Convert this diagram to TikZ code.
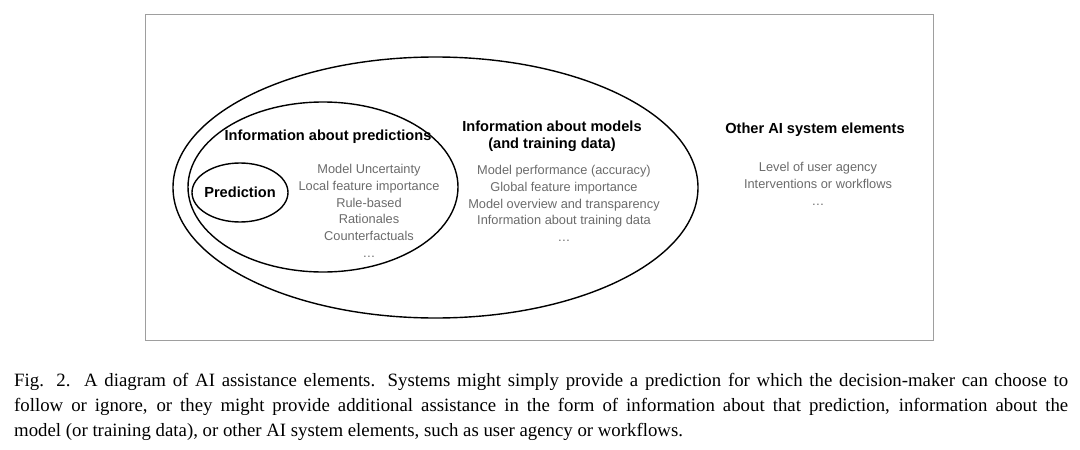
\documentclass[tikz,border=0pt]{standalone}
\usepackage{fontspec}
\setmainfont{Liberation Serif}
\setsansfont{Liberation Sans}
\usetikzlibrary{shapes.geometric}
\definecolor{itemgray}{gray}{0.42}
\definecolor{framegray}{gray}{0.62}
\begin{document}
\begin{tikzpicture}[x=1pt,y=-1pt,
  ring/.style={draw=black,line width=1.4pt,ellipse,inner sep=0pt},
  head/.style={font=\sffamily\bfseries\fontsize{14.6}{17}\selectfont,align=center,inner sep=0pt},
  items/.style={font=\sffamily\fontsize{12.8}{16.8}\selectfont,text=itemgray,align=center,inner sep=0pt,anchor=north},
  capline/.style={font=\fontsize{18.8}{25}\selectfont,anchor=west,inner sep=0pt}]
\useasboundingbox (0,0) rectangle (1080,450);
\node[draw=framegray,line width=0.9pt,minimum width=788pt,minimum height=326pt,inner sep=0pt] (frame) at (539,177) {};
\node[ring,minimum width=525pt,minimum height=261pt] (outer) at (435.5,187.5) {};
\node[ring,minimum width=270pt,minimum height=170pt] (mid) at (323,187) {};
\node[ring,minimum width=96pt,minimum height=59pt] (pred) at (240,192.5) {};
\node[head] (predtxt) at (240,192) {Prediction};
\node[head] (aboutpred) at (328,137) {Information about predictions};
\node[items] (predlist) at (369,164) {Model Uncertainty\\Local feature importance\\Rule-based\\Rationales\\Counterfactuals\\\dots};
\node[head] (aboutmodel) at (552,136) {Information about models\\(and training data)};
\node[items] (modellist) at (564,165) {Model performance (accuracy)\\Global feature importance\\Model overview and transparency\\Information about training data\\\dots};
\node[head] (other) at (815,130) {Other AI system elements};
\node[items] (otherlist) at (818,162) {Level of user agency\\Interventions or workflows\\\dots};
\node[capline] (cap1) at (14,382) {\hbox to 1054pt{Fig. 2.\ \ A diagram of AI assistance elements. Systems might simply provide a prediction for which the decision-maker can choose to}};
\node[capline] (cap2) at (14,407) {\hbox to 1054pt{follow or ignore, or they might provide additional assistance in the form of information about that prediction, information about the}};
\node[capline] (cap3) at (14,432) {model (or training data), or other AI system elements, such as user agency or workflows.};
\end{tikzpicture}
\end{document}
